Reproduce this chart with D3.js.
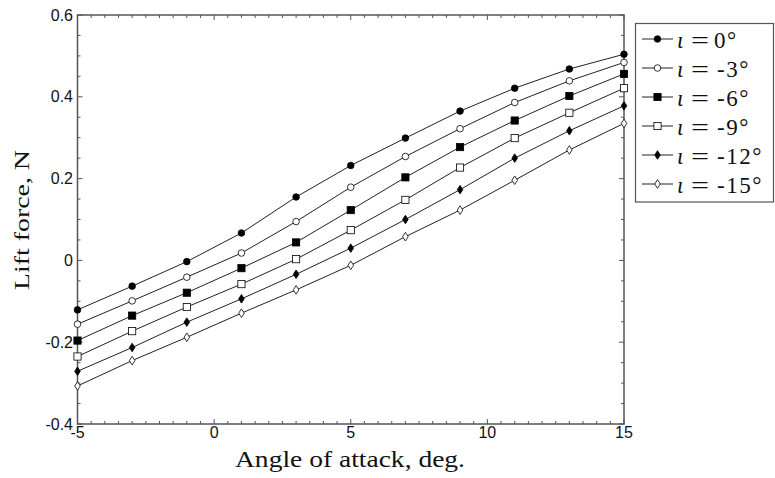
<!DOCTYPE html>
<html><head><meta charset="utf-8">
<script src="https://cdn.jsdelivr.net/npm/d3@7"></script>
<style>body{margin:0;background:#fff}svg{display:block}</style>
</head><body><svg id="c" width="775" height="478"></svg>
<script>
const angles = [-5,-3,-1,1,3,5,7,9,11,13,15];
const inc0   = [-0.121,-0.063,-0.003,0.067,0.155,0.232,0.299,0.365,0.421,0.468,0.504];
const inc3   = [-0.156,-0.099,-0.041,0.018,0.095,0.179,0.254,0.322,0.386,0.439,0.484];
const inc6   = [-0.196,-0.135,-0.079,-0.019,0.044,0.123,0.203,0.277,0.342,0.402,0.456];
const inc9   = [-0.235,-0.173,-0.114,-0.058,0.003,0.074,0.148,0.227,0.299,0.361,0.421];
const inc12  = [-0.271,-0.213,-0.151,-0.094,-0.034,0.030,0.100,0.173,0.250,0.317,0.378];
const inc15  = [-0.307,-0.245,-0.188,-0.129,-0.072,-0.012,0.058,0.123,0.196,0.270,0.335];
const legendLabels = ["0°","-3°","-6°","-9°","-12°","-15°"];
const xTicks = [-5,0,5,10,15];
const yTicks = [-0.4,-0.2,0,0.2,0.4,0.6];
const yTickLabels = ["-0.4","-0.2","0","0.2","0.4","0.6"];

const series = [
  {vals:inc0,  shape:"circle",  fill:"#000"},
  {vals:inc3,  shape:"circle",  fill:"#fff"},
  {vals:inc6,  shape:"square",  fill:"#000"},
  {vals:inc9,  shape:"square",  fill:"#fff"},
  {vals:inc12, shape:"diamond", fill:"#000"},
  {vals:inc15, shape:"diamond", fill:"#fff"}
];

const svg = d3.select("#c");
const L=77.5, R=624, T=15, B=424;
const x = d3.scaleLinear().domain([-5,15]).range([L,R]);
const y = d3.scaleLinear().domain([-0.4,0.6]).range([B,T]);
const axisCol="#555";

const g = svg.append("g");
d3.range(-5,15.001,0.5).forEach(v=>{
  const major = Math.abs(v/5-Math.round(v/5))<1e-6;
  const len = major?5:3;
  g.append("line").attr("x1",x(v)).attr("x2",x(v)).attr("y1",B).attr("y2",B-len).attr("stroke",axisCol).attr("stroke-width",1);
  g.append("line").attr("x1",x(v)).attr("x2",x(v)).attr("y1",T).attr("y2",T+len).attr("stroke",axisCol).attr("stroke-width",1);
});
d3.range(-0.4,0.6001,0.05).forEach(v=>{
  const major = Math.abs(v/0.2-Math.round(v/0.2))<1e-6;
  const len = major?5:3;
  g.append("line").attr("y1",y(v)).attr("y2",y(v)).attr("x1",L).attr("x2",L+len).attr("stroke",axisCol).attr("stroke-width",1);
  g.append("line").attr("y1",y(v)).attr("y2",y(v)).attr("x1",R).attr("x2",R-len).attr("stroke",axisCol).attr("stroke-width",1);
});
svg.append("rect").attr("x",L).attr("y",T).attr("width",R-L).attr("height",B-T)
  .attr("fill","none").attr("stroke",axisCol).attr("stroke-width",1.5);

const tf = "'Liberation Sans', Arial, sans-serif";
xTicks.forEach(v=>{
  svg.append("text").attr("x",x(v)).attr("y",438).attr("text-anchor","middle")
    .attr("font-family",tf).attr("font-size",16).attr("fill","#111").text(String(v));
});
yTicks.forEach((v,i)=>{
  svg.append("text").attr("x",73).attr("y",y(v)+5.5).attr("text-anchor","end")
    .attr("font-family",tf).attr("font-size",16).attr("fill","#111").text(yTickLabels[i]);
});

const sf = "'Liberation Serif', 'DejaVu Serif', serif";
svg.append("text").attr("x",235).attr("y",467)
  .attr("font-family",sf).attr("font-size",23).attr("fill","#111")
  .attr("textLength",230).attr("lengthAdjust","spacingAndGlyphs").text("Angle of attack, deg.");
svg.append("text").attr("transform","translate(28.5,290) rotate(-90)")
  .attr("font-family",sf).attr("font-size",21).attr("fill","#111")
  .attr("textLength",140).attr("lengthAdjust","spacingAndGlyphs").text("Lift force, N");

function marker(sel, shape, fill, cx, cy){
  if(shape==="circle"){
    sel.append("circle").attr("cx",cx).attr("cy",cy).attr("r",3.3)
      .attr("fill",fill).attr("stroke","#000").attr("stroke-width",0.8);
  } else if(shape==="square"){
    sel.append("rect").attr("x",cx-3.6).attr("y",cy-3.6).attr("width",7.2).attr("height",7.2)
      .attr("fill",fill).attr("stroke","#000").attr("stroke-width",0.8);
  } else {
    sel.append("path").attr("d",`M${cx},${cy-4.3}L${cx+2.8},${cy}L${cx},${cy+4.3}L${cx-2.8},${cy}Z`)
      .attr("fill",fill).attr("stroke","#000").attr("stroke-width",0.8);
  }
}

const line = d3.line().x(d=>x(d[0])).y(d=>y(d[1]));
series.forEach(s=>{
  const pts = angles.map((a,i)=>[a,s.vals[i]]);
  svg.append("path").attr("d",line(pts)).attr("fill","none").attr("stroke","#222").attr("stroke-width",1);
  const mg = svg.append("g");
  pts.forEach(p=>marker(mg,s.shape,s.fill,x(p[0]),y(p[1])));
});

svg.append("rect").attr("x",635.5).attr("y",23.5).attr("width",138).attr("height",178.5)
  .attr("fill","#fff").attr("stroke",axisCol).attr("stroke-width",1.2);
series.forEach((s,i)=>{
  const cy = 39 + i*29;
  svg.append("line").attr("x1",642).attr("x2",673).attr("y1",cy).attr("y2",cy).attr("stroke","#222").attr("stroke-width",1);
  marker(svg,s.shape,s.fill,657.5,cy);
  svg.append("text").attr("x",677).attr("y",cy+9).attr("font-family",sf).attr("font-style","italic")
    .attr("font-size",23).attr("fill","#111").text("ι");
  svg.append("text").attr("x",691).attr("y",cy+9).attr("font-family",sf)
    .attr("font-size",23).attr("fill","#111").attr("textLength",18).attr("lengthAdjust","spacingAndGlyphs").text("=");
  const lab = legendLabels[i];
  svg.append("text").attr("x",lab.startsWith("-")?717:714).attr("y",cy+9).attr("font-family",sf)
    .attr("font-size",23).attr("fill","#111").attr("letter-spacing",1.5).text(lab);
});
</script></body></html>
